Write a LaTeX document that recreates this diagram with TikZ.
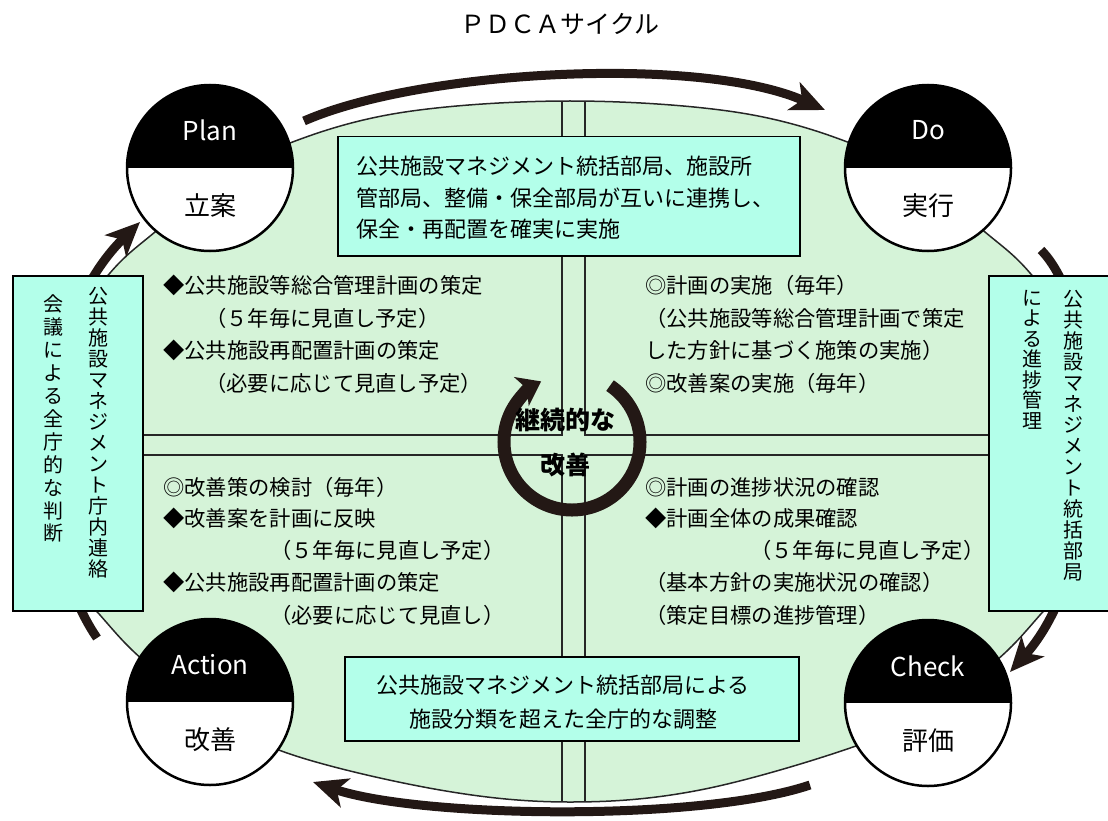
\documentclass[tikz,border=0pt]{standalone}
\usepackage{fontspec}
\newfontfamily\jp{Noto Sans CJK JP}
\usetikzlibrary{arrows.meta}
\definecolor{ovalfill}{HTML}{D5F3D8}
\definecolor{boxfill}{HTML}{B3FFEA}
\definecolor{arrowc}{HTML}{231815}
\tikzset{
 body/.style={anchor=west, inner sep=0pt, font=\jp\fontsize{21.3pt}{25pt}\selectfont, text height=18.7pt, text depth=2.6pt},
 boxtxt/.style={inner sep=0pt, font=\jp\fontsize{22pt}{26pt}\selectfont, text height=19.4pt, text depth=2.6pt},
 infobox/.style={draw=black, line width=1.5pt, fill=boxfill, inner sep=0pt},
 phase/.style={circle, draw=black, line width=2.5pt, fill=white, minimum size=166pt, inner sep=0pt,
   path picture={\fill[black] (path picture bounding box.north west) rectangle (path picture bounding box.east);}},
 phaseen/.style={text=white, font=\jp\fontsize{26pt}{28pt}\selectfont, inner sep=0pt},
 phasejp/.style={font=\jp\fontsize{26pt}{28pt}\selectfont, inner sep=0pt},
 bigarrow/.style={draw=arrowc, line width=9pt, -{Stealth[length=34pt, width=30pt, inset=9pt]}},
 qline/.style={draw=black!85, line width=1.6pt},
 vtext/.style={anchor=north, align=center, inner sep=0pt},
}
\begin{document}
\begin{tikzpicture}[x=1pt,y=-1pt]
\useasboundingbox (0,0) rectangle (1108,821);
% title
\node[font=\jp\fontsize{25pt}{28pt}\selectfont] (title) at (560,24) {ＰＤＣＡサイクル};
% oval
\draw[fill=ovalfill, draw=black!85, line width=1.5pt] plot[smooth cycle, tension=0.6] coordinates {
 (36,452) (58,345) (110,273) (155,232) (215,185) (290,143) (405,112) (570,101) (735,112) (850,143) (925,185) (985,232) (1030,273) (1082,345) (1104,452) (1085,560) (1040,615) (997,660) (930,710) (853,747) (700,790) (570,802) (440,790) (287,753) (210,710) (143,660) (100,615) (55,560)};
\begin{scope}
\clip plot[smooth cycle, tension=0.6] coordinates {
 (36,452) (58,345) (110,273) (155,232) (215,185) (290,143) (405,112) (570,101) (735,112) (850,143) (925,185) (985,232) (1030,273) (1082,345) (1104,452) (1085,560) (1040,615) (997,660) (930,710) (853,747) (700,790) (570,802) (440,790) (287,753) (210,710) (143,660) (100,615) (55,560)};
\draw[qline] (0,435) -- (562,435) -- (562,0);
\draw[qline] (1108,435) -- (585,435) -- (585,0);
\draw[qline] (0,455) -- (562,455) -- (562,821);
\draw[qline] (1108,455) -- (585,455) -- (585,821);
\end{scope}
% central cycle arrow
\coordinate (cc) at (572,442);
\draw[draw=arrowc, line width=13pt, -{Stealth[length=22pt, width=32pt, inset=6pt]}] (cc) ++(-56:68) arc[start angle=-56, end angle=243, radius=68];
\node[font=\jp\bfseries\fontsize{25pt}{28pt}\selectfont, inner sep=0pt] (kai1) at (565,420) {継続的な};
\node[font=\jp\bfseries\fontsize{25pt}{28pt}\selectfont, inner sep=0pt] (kai2) at (565,465) {改善};
% top and bottom boxes
\node[infobox, anchor=north west, minimum width=462pt, minimum height=119pt] (topbox) at (337,136) {};
\node[boxtxt, anchor=west] (tb1) at (356,166) {公共施設マネジメント統括部局、施設所};
\node[boxtxt, anchor=west] (tb2) at (356,198) {管部局、整備・保全部局が互いに連携し、};
\node[boxtxt, anchor=west] (tb3) at (356,229) {保全・再配置を確実に実施};
\node[infobox, anchor=north west, minimum width=454pt, minimum height=84pt] (botbox) at (344,656) {};
\node[boxtxt] (bb1) at (563,685) {公共施設マネジメント統括部局による};
\node[boxtxt] (bb2) at (563,719) {施設分類を超えた全庁的な調整};
% quadrant texts
\node[body] (tl1) at (163,285) {◆公共施設等総合管理計画の策定};
\node[body] (tl2) at (205,318) {（５年毎に見直し予定）};
\node[body] (tl3) at (163,350) {◆公共施設再配置計画の策定};
\node[body] (tl4) at (205,383) {（必要に応じて見直し予定）};
\node[body] (tr1) at (645,285) {◎計画の実施（毎年）};
\node[body] (tr2) at (645,318) {（公共施設等総合管理計画で策定};
\node[body] (tr3) at (645,350) {した方針に基づく施策の実施）};
\node[body] (tr4) at (645,383) {◎改善案の実施（毎年）};
\node[body] (bl1) at (163,487) {◎改善策の検討（毎年）};
\node[body] (bl2) at (163,518) {◆改善案を計画に反映};
\node[body] (bl3) at (270,550) {（５年毎に見直し予定）};
\node[body] (bl4) at (163,582) {◆公共施設再配置計画の策定};
\node[body] (bl5) at (270,615) {（必要に応じて見直し）};
\node[body] (br1) at (645,487) {◎計画の進捗状況の確認};
\node[body] (br2) at (645,518) {◆計画全体の成果確認};
\node[body] (br3) at (750,550) {（５年毎に見直し予定）};
\node[body] (br4) at (645,582) {（基本方針の実施状況の確認）};
\node[body] (br5) at (645,615) {（策定目標の進捗管理）};
% big cycle arrows
\coordinate (ta0) at (304,121);
\coordinate (ta1) at (825,110);
\draw[bigarrow] (ta0) .. controls (420,70) and (700,55) .. (ta1);
\coordinate (ra0) at (1041,250);
\coordinate (ra1) at (1010,672);
\draw[bigarrow] (ra0) .. controls (1105,315) and (1110,560) .. (ra1);
\coordinate (ba0) at (810,785);
\coordinate (ba1) at (313,782);
\draw[bigarrow] (ba0) .. controls (700,822) and (420,818) .. (ba1);
\coordinate (la0) at (97,638);
\coordinate (la1) at (140,222);
\draw[bigarrow] (la0) .. controls (30,540) and (30,330) .. (la1);
% side boxes
\node[infobox, anchor=north west, minimum width=130pt, minimum height=335pt] (leftbox) at (12,275) {};
\node[vtext, font=\jp\fontsize{20pt}{21pt}\selectfont] (lv1) at (98,287) {公\\共\\施\\設\\マ\\ネ\\ジ\\メ\\ン\\ト\\庁\\内\\連\\絡};
\node[vtext, font=\jp\fontsize{20pt}{22.9pt}\selectfont] (lv2) at (53,295) {会\\議\\に\\よ\\る\\全\\庁\\的\\な\\判\\断};
\node[infobox, anchor=north west, minimum width=130pt, minimum height=335pt] (rightbox) at (988,275) {};
\node[vtext, font=\jp\fontsize{20pt}{21pt}\selectfont] (rv1) at (1073,290) {公\\共\\施\\設\\マ\\ネ\\ジ\\メ\\ン\\ト\\統\\括\\部\\局};
\node[vtext, font=\jp\fontsize{20pt}{20.5pt}\selectfont] (rv2) at (1032,290) {に\\よ\\る\\進\\捗\\管\\理};
% phase circles
\node[phase] (plan) at (210,168) {};
\node[phaseen] (planen) at (210,130) {Plan};
\node[phasejp] (planjp) at (210,206) {立案};
\node[phase] (do) at (928,168) {};
\node[phaseen] (doen) at (928,130) {Do};
\node[phasejp] (dojp) at (928,206) {実行};
\node[phase] (act) at (210,702) {};
\node[phaseen] (acten) at (210,665) {Action};
\node[phasejp] (actjp) at (210,740) {改善};
\node[phase] (chk) at (928,703) {};
\node[phaseen] (chken) at (928,666) {Check};
\node[phasejp] (chkjp) at (928,741) {評価};
\end{tikzpicture}
\end{document}
